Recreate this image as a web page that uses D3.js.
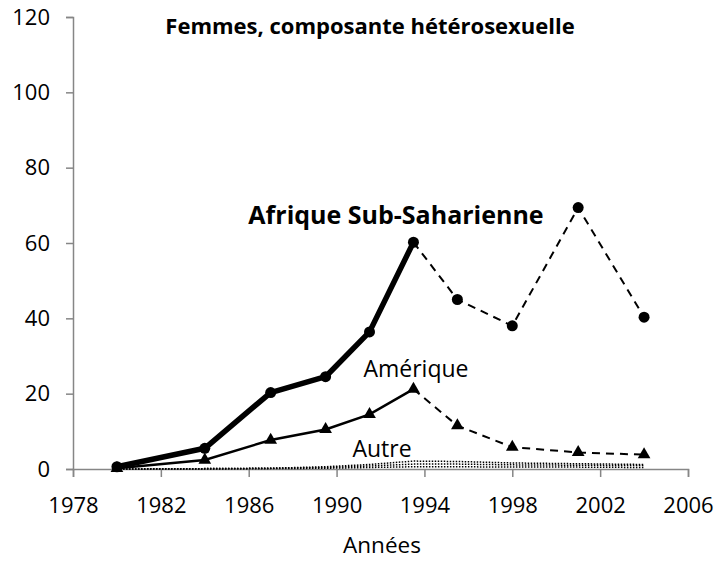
<!DOCTYPE html>
<html>
<head>
<meta charset="utf-8">
<script src="https://cdn.jsdelivr.net/npm/d3@7"></script>
<style>
  body { margin: 0; background: #fff; }
  svg { font-family: "Open Sans", sans-serif; }
</style>
</head>
<body>
<div id="chart"></div>
<script>
// data
var years = [1980, 1984, 1987, 1989.5, 1991.5, 1993.5, 1995.5, 1998, 2001, 2004];
var afrique = [0.6, 5.5, 20.3, 24.5, 36.4, 60.2, 45.0, 38.0, 69.4, 40.3];
var amerique = [0.2, 2.4, 7.7, 10.5, 14.5, 21.2, 11.5, 5.8, 4.4, 3.8];
var autre1 = [0, 0.1, 0.2, 0.6, 1.2, 2.1, 2.0, 1.6, 1.4, 1.2];
var autre2 = [0, 0.1, 0.2, 0.4, 0.8, 1.3, 1.3, 1.1, 1.0, 0.9];
var autre3 = [0, 0, 0.1, 0.2, 0.4, 0.6, 0.6, 0.5, 0.5, 0.4];
var splitIndex = 5; // solid up to 1993.5, dashed after
var xTicks = [1978, 1982, 1986, 1990, 1994, 1998, 2002, 2006];
var yTicks = [0, 20, 40, 60, 80, 100, 120];

var W = 720, H = 561;
var m = {top: 17, right: 32, bottom: 92, left: 73};

var svg = d3.select("#chart").append("svg")
    .attr("width", W)
    .attr("height", H);

var x = d3.scaleLinear().domain([1978, 2006]).range([m.left, W - m.right]);
var y = d3.scaleLinear().domain([0, 120]).range([H - m.bottom, m.top]);

var axisColor = "#868686";

// y axis
var yAxis = svg.append("g")
    .attr("transform", "translate(" + m.left + ",0)")
    .call(d3.axisLeft(y).tickValues(yTicks).tickSize(7).tickPadding(16));
// x axis
var xAxis = svg.append("g")
    .attr("transform", "translate(0," + y(0) + ")")
    .call(d3.axisBottom(x).tickValues(xTicks).tickFormat(d3.format("d")).tickSize(8).tickPadding(20));

[yAxis, xAxis].forEach(function(a) {
    a.select(".domain").attr("stroke", axisColor).attr("stroke-width", 1.5);
    a.selectAll(".tick line").attr("stroke", axisColor).attr("stroke-width", 1.5);
    a.selectAll("text").attr("fill", "#000").style("font-size", "22px").style("font-family", "'Open Sans', sans-serif");
});

function pts(values) {
    return years.map(function(yr, i) { return [yr, values[i]]; });
}

var line = d3.line()
    .x(function(d) { return x(d[0]); })
    .y(function(d) { return y(d[1]); });

// Autre: dotted lines
[autre1, autre2, autre3].forEach(function(s) {
    svg.append("path")
        .attr("d", line(pts(s)))
        .attr("fill", "none")
        .attr("stroke", "#000")
        .attr("stroke-width", 1.5)
        .attr("stroke-dasharray", "1.5,1.5");
});

// Amérique
var am = pts(amerique);
svg.append("path")
    .attr("d", line(am.slice(0, splitIndex + 1)))
    .attr("fill", "none").attr("stroke", "#000").attr("stroke-width", 2.5);
svg.append("path")
    .attr("d", line(am.slice(splitIndex)))
    .attr("fill", "none").attr("stroke", "#000").attr("stroke-width", 2)
    .attr("stroke-dasharray", "8,6");
svg.selectAll(".tri")
    .data(am)
    .enter().append("path")
    .attr("class", "tri")
    .attr("transform", function(d) { return "translate(" + x(d[0]) + "," + y(d[1]) + ")"; })
    .attr("d", d3.symbol().type(d3.symbolTriangle).size(70))
    .attr("fill", "#000");

// Afrique Sub-Saharienne
var af = pts(afrique);
svg.append("path")
    .attr("d", line(af.slice(0, splitIndex + 1)))
    .attr("fill", "none").attr("stroke", "#000").attr("stroke-width", 5.5)
    .attr("stroke-linejoin", "round");
svg.append("path")
    .attr("d", line(af.slice(splitIndex)))
    .attr("fill", "none").attr("stroke", "#000").attr("stroke-width", 2)
    .attr("stroke-dasharray", "8,6");
svg.selectAll(".dot")
    .data(af)
    .enter().append("circle")
    .attr("class", "dot")
    .attr("cx", function(d) { return x(d[0]); })
    .attr("cy", function(d) { return y(d[1]); })
    .attr("r", 5.5)
    .attr("fill", "#000");

// texts
svg.append("text")
    .attr("x", 370).attr("y", 34)
    .attr("text-anchor", "middle")
    .style("font-size", "22px").style("font-weight", "bold")
    .text("Femmes, composante hétérosexuelle");

svg.append("text")
    .attr("x", 396).attr("y", 224)
    .attr("text-anchor", "middle")
    .style("font-size", "25px").style("font-weight", "bold")
    .text("Afrique Sub-Saharienne");

svg.append("text")
    .attr("x", 416).attr("y", 377)
    .attr("text-anchor", "middle")
    .style("font-size", "23px")
    .text("Amérique");

svg.append("text")
    .attr("x", 382).attr("y", 457)
    .attr("text-anchor", "middle")
    .style("font-size", "23px")
    .text("Autre");

svg.append("text")
    .attr("x", 382).attr("y", 553)
    .attr("text-anchor", "middle")
    .style("font-size", "22.5px")
    .text("Années");
</script>
</body>
</html>
